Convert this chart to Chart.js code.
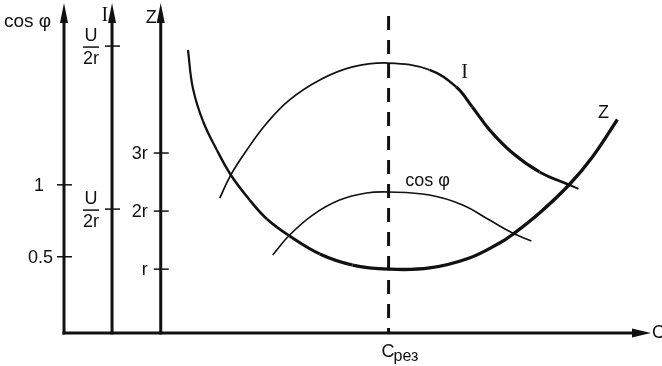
<!DOCTYPE html>
<html>
<head>
<meta charset="utf-8">
<script src="https://cdn.jsdelivr.net/npm/chart.js"></script>
<style>html,body{margin:0;background:#fff}</style>
</head>
<body>
<canvas id="chart" width="662" height="366"></canvas>
<script>
/* ---------- data (C in units of C_рез, Z in r, I in U/r) */
const C_RES = 1.0;

const zC   = [0.382,0.397,0.428,0.471,0.514,0.572,0.625,0.695,0.788,0.889,1.000,1.126,1.249,1.342,1.382,1.465,1.557,1.628,1.705];
const zVal = [4.775,4.120,3.552,3.052,2.622,2.191,1.864,1.571,1.261,1.071,1.000,1.020,1.192,1.450,1.597,1.967,2.458,2.932,3.578];

const iC   = [0.480,0.514,0.563,0.625,0.695,0.788,0.889,1.000,1.126,1.209,1.258,1.311,1.382,1.465,1.557,1.585];
const iVal = [0.534,0.605,0.681,0.764,0.835,0.896,0.936,0.948,0.927,0.874,0.813,0.743,0.672,0.614,0.574,0.562];

const cosC   = [0.643,0.695,0.766,0.849,0.932,1.000,1.126,1.228,1.311,1.382,1.440];
const cosVal = [0.512,0.651,0.790,0.894,0.943,0.950,0.929,0.860,0.755,0.665,0.610];

const cosTicks  = [1, 0.5];
const cosLabels = ['1', '0.5'];
const zTicks    = [3, 2, 1];
const zLabels   = ['3r', '2r', 'r'];
const iTicks    = [1, 0.5];
const iLabels   = [['U','2r'], ['U','2r']];   // both read U/2r in the picture

/* ---------- layout bits (not data) */
const AXIS_AT  = { cos: 0, i: 0.148, z: 0.298 };   // where the 3 vertical axes stand, in C units
const DASH_TOP = 5.36;                              // top of the C_рез line, in Z units
const INK  = '#111';
const SANS = '"Liberation Sans", Arial, sans-serif';
const SERIF = '"Liberation Serif", "Times New Roman", serif';

const pts = (xs, ys) => xs.map((x, i) => ({ x, y: ys[i] }));
// line width that eases between two values over [a,b]
const ramp = (x, a, b, w0, w1) => x <= a ? w0 : x >= b ? w1 : w0 + (w1 - w0) * (x - a) / (b - a);

/* ---------- axes, arrows, ticks and texts */
const decor = {
  id: 'decor',
  afterDraw(chart) {
    const { ctx, chartArea: a, scales } = chart;
    const X = scales.x;
    const base = a.bottom;
    ctx.save();
    ctx.fillStyle = INK;
    ctx.strokeStyle = INK;

    const vAxis = (px) => {
      ctx.lineWidth = 3;
      ctx.beginPath(); ctx.moveTo(px, base + 1.5); ctx.lineTo(px, 20); ctx.stroke();
      ctx.beginPath(); ctx.moveTo(px, 3); ctx.lineTo(px - 4, 23); ctx.lineTo(px + 4, 23); ctx.closePath(); ctx.fill();
    };
    const tick = (px, py) => {
      ctx.lineWidth = 1.5;
      ctx.beginPath(); ctx.moveTo(px - 7, py); ctx.lineTo(px + 8, py); ctx.stroke();
    };

    const xCos = X.getPixelForValue(AXIS_AT.cos);
    const xI   = X.getPixelForValue(AXIS_AT.i);
    const xZ   = X.getPixelForValue(AXIS_AT.z);
    [xCos, xI, xZ].forEach(vAxis);

    // horizontal C axis
    ctx.lineWidth = 3;
    ctx.beginPath(); ctx.moveTo(xCos - 1.5, base); ctx.lineTo(636, base); ctx.stroke();
    ctx.beginPath(); ctx.moveTo(651, base); ctx.lineTo(632, base - 4.5); ctx.lineTo(632, base + 4.5); ctx.closePath(); ctx.fill();

    ctx.textBaseline = 'middle';
    ctx.font = `18px ${SANS}`;

    // cos φ ticks
    cosTicks.forEach((v, k) => {
      const py = scales.yCos.getPixelForValue(v);
      tick(xCos, py);
      ctx.textAlign = 'right';
      ctx.fillText(cosLabels[k], xCos - 11 - (k === 0 ? 9 : 0), py + 1);
    });

    // Z ticks
    zTicks.forEach((v, k) => {
      const py = scales.yZ.getPixelForValue(v);
      tick(xZ, py);
      ctx.textAlign = 'right';
      ctx.fillText(zLabels[k], xZ - 13, py + 1);
    });

    // I ticks as fractions
    iTicks.forEach((v, k) => {
      const py = scales.yI.getPixelForValue(v);
      tick(xI, py);
      const cx = xI - 21;
      ctx.textAlign = 'center';
      ctx.fillText(iLabels[k][0], cx, py - 10);
      ctx.lineWidth = 1.5;
      ctx.beginPath(); ctx.moveTo(cx - 8, py + 1); ctx.lineTo(cx + 8, py + 1); ctx.stroke();
      ctx.fillText(iLabels[k][1], cx, py + 13);
    });

    // axis names
    ctx.textAlign = 'left';
    ctx.font = `19px ${SANS}`;
    ctx.fillText('cos φ', 4, 22);
    ctx.font = `20px ${SERIF}`;
    ctx.textAlign = 'right';
    ctx.fillText('I', xI - 4, 16);
    ctx.font = `18px ${SANS}`;
    ctx.fillText('Z', xZ - 4, 18);

    // C axis labels
    ctx.textAlign = 'left';
    ctx.fillText('C', 652, base);
    const xr = X.getPixelForValue(C_RES);
    ctx.fillText('C', xr - 7, 352);
    ctx.font = `16px ${SANS}`;
    ctx.fillText('рез', xr + 5, 357);

    // curve labels
    ctx.textAlign = 'center';
    ctx.font = `20px ${SERIF}`;
    ctx.fillText('I', X.getPixelForValue(1.234), scales.yI.getPixelForValue(0.917));
    ctx.font = `18px ${SANS}`;
    ctx.fillText('Z', X.getPixelForValue(1.662), scales.yZ.getPixelForValue(3.69));
    ctx.fillText('cos φ', X.getPixelForValue(1.12), scales.yCos.getPixelForValue(1.027));
    ctx.restore();
  }
};

new Chart(document.getElementById('chart'), {
  type: 'scatter',
  data: {
    datasets: [
      { data: pts(zC, zVal), yAxisID: 'yZ',
        segment: { borderWidth: c => ramp(c.p0.parsed.x, 0.4, 0.8, 2.2, 3.3) } },
      { data: pts(iC, iVal), yAxisID: 'yI',
        segment: { borderWidth: c => c.p0.parsed.x < 1.3
                     ? ramp(c.p0.parsed.x, 1.0, 1.22, 1.7, 3.1)
                     : ramp(c.p0.parsed.x, 1.42, 1.56, 3.1, 2.0) } },
      { data: pts(cosC, cosVal), yAxisID: 'yCos', borderWidth: 1.6 },
      { data: [{ x: C_RES, y: DASH_TOP }, { x: C_RES, y: -0.1 }], yAxisID: 'yZ',
        borderWidth: 3, borderDash: [14, 10], tension: 0 }
    ]
  },
  options: {
    responsive: false,
    animation: false,
    showLine: true,
    layout: { padding: { left: 64, right: 17, top: 5, bottom: 33 } },
    elements: {
      point: { radius: 0, hoverRadius: 0 },
      line: { borderColor: INK, borderWidth: 2, tension: 0.4, fill: false, capBezierPoints: false }
    },
    plugins: { legend: { display: false }, tooltip: { enabled: false } },
    scales: {
      x:    { type: 'linear', min: 0, max: 1.79, display: false },
      yZ:   { type: 'linear', axis: 'y', min: -0.1, max: 5.55, display: false },
      yCos: { type: 'linear', axis: 'y', min: -0.03, max: 2.25, display: false },
      yI:   { type: 'linear', axis: 'y', min: 0.12, max: 1.126, display: false }
    }
  },
  plugins: [decor]
});
</script>
</body>
</html>
